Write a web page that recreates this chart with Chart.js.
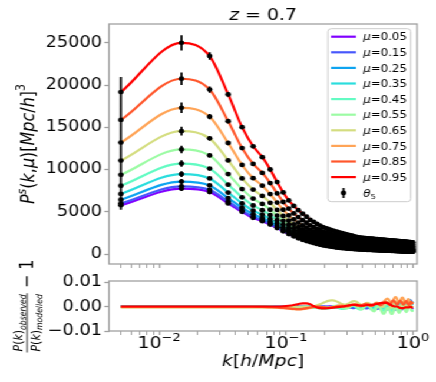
<!DOCTYPE html>
<html>
<head>
<meta charset="utf-8">
<script src="https://cdn.jsdelivr.net/npm/chart.js@4.4.1/dist/chart.umd.min.js"></script>
<style>
  html, body { margin: 0; padding: 0; background: #fff; overflow: hidden; }
  /* the reference figure is stretched sideways, so the whole drawing is too */
  #wrap { position: relative; width: 370px; height: 382px; transform: scaleX(1.1784); transform-origin: 0 0; }
  #top, #bot { position: absolute; left: 0; }
  #top { top: 0; }
  #bot { top: 230px; }
</style>
</head>
<body>
<div id="wrap">
  <canvas id="top" width="370" height="275"></canvas>
  <canvas id="bot" width="370" height="152"></canvas>
</div>
<script>
// k bins [h/Mpc]
const kValues = [
  0.005,0.015,0.025,0.035,0.045,0.055,0.065,0.075,0.085,0.095,
  0.105,0.115,0.125,0.135,0.145,0.155,0.165,0.175,0.185,0.195,
  0.205,0.215,0.225,0.235,0.245,0.255,0.265,0.275,0.285,0.295,
  0.305,0.315,0.325,0.335,0.345,0.355,0.365,0.375,0.385,0.395,
  0.405,0.415,0.425,0.435,0.445,0.455,0.465,0.475,0.485,0.495,
  0.505,0.515,0.525,0.535,0.545,0.555,0.565,0.575,0.585,0.595,
  0.605,0.615,0.625,0.635,0.645,0.655,0.665,0.675,0.685,0.695,
  0.705,0.715,0.725,0.735,0.745,0.755,0.765,0.775,0.785,0.795,
  0.805,0.815,0.825,0.835,0.845,0.855,0.865,0.875,0.885,0.895,
  0.905,0.915,0.925,0.935,0.945,0.955,0.965,0.975,0.985,0.995
];

const muLabels = ['0.05','0.15','0.25','0.35','0.45','0.55','0.65','0.75','0.85','0.95'];

// P^s(k, mu)
const pkMu005 = [5790,7750,7350,6000,5000,4300,3900,3500,3080,2700,
  2380,2110,1880,1700,1550,1420,1310,1210,1120,1050,990,940,890,850,810,780,750,720,700,680,
  660,645,630,615,600,590,580,570,560,550,540,532,525,518,512,506,500,494,488,482,
  477,471,466,461,456,451,446,441,436,432,427,422,418,414,409,405,401,397,393,389,
  385,381,377,373,370,366,362,359,355,352,348,345,341,338,335,332,328,325,322,319,
  316,313,310,307,304,301,298,295,293,290];
const pkMu015 = [6003,8024,7606,6205,5159,4435,4020,3604,3167,2773,
  2443,2167,1933,1749,1596,1462,1350,1248,1156,1084,1023,972,921,881,840,809,779,748,727,707,
  686,671,655,639,624,613,603,592,582,572,562,554,547,539,533,527,521,515,509,503,
  498,492,487,481,476,471,466,461,456,452,447,442,438,434,429,424,420,416,412,408,
  404,400,396,392,389,385,381,378,374,370,366,363,359,356,353,350,346,343,340,337,
  334,331,328,325,322,319,315,312,310,307];
const pkMu025 = [6440,8588,8132,6627,5487,4711,4268,3816,3345,2924,
  2573,2284,2041,1850,1689,1548,1432,1325,1230,1154,1092,1039,986,944,902,869,837,806,784,762,
  740,723,706,690,673,661,649,639,628,617,607,598,591,584,577,571,565,558,552,546,
  540,534,529,523,518,513,508,502,497,493,488,482,478,474,469,464,460,456,452,447,
  443,439,435,431,427,423,419,416,412,408,404,401,397,394,391,387,383,380,377,374,
  370,367,364,361,358,355,351,348,346,343];
const pkMu035 = [7124,9470,8954,7286,5999,5143,4655,4149,3623,3159,
  2776,2468,2211,2007,1836,1682,1560,1446,1345,1264,1198,1142,1087,1042,998,963,929,895,871,847,
  824,805,787,768,750,736,723,711,699,688,677,668,660,653,646,639,633,626,619,613,
  607,600,595,589,584,578,572,567,561,557,551,546,541,537,531,527,522,518,513,509,
  504,500,496,491,488,483,479,476,471,468,463,460,456,452,449,445,441,438,434,431,
  428,424,421,418,414,411,408,404,402,399];
const pkMu045 = [8091,10717,10117,8219,6723,5755,5202,4620,4017,3491,
  3063,2727,2451,2230,2044,1872,1742,1618,1509,1420,1349,1289,1231,1182,1135,1096,1060,1023,996,969,
  942,921,900,879,858,841,826,813,799,787,776,767,758,750,743,736,729,721,714,707,
  701,694,688,682,676,670,664,658,652,647,641,636,631,626,620,615,610,605,601,596,
  591,586,582,577,573,568,564,560,555,552,547,543,539,535,531,528,523,520,516,512,
  509,505,501,498,494,491,487,484,481,477];
const pkMu055 = [9387,12387,11675,9468,7693,6574,5935,5250,4545,3936,
  3447,3075,2772,2528,2321,2127,1985,1847,1727,1628,1552,1486,1422,1369,1318,1275,1234,1193,1162,1132,
  1101,1076,1052,1028,1003,982,964,949,934,921,908,899,890,881,873,865,857,849,842,834,
  827,820,813,806,800,793,787,780,774,768,762,756,750,745,739,733,728,723,717,712,
  707,702,697,692,687,682,677,673,668,664,659,655,650,646,642,638,633,629,625,621,
  617,613,609,605,602,598,594,590,587,583];
const pkMu065 = [11067,14553,13696,11088,8952,7637,6886,6068,5229,4514,
  3946,3526,3189,2915,2682,2457,2300,2145,2011,1898,1814,1741,1671,1611,1555,1506,1460,1414,1378,1343,
  1307,1278,1249,1220,1192,1166,1144,1126,1108,1094,1080,1070,1060,1050,1041,1033,1024,1015,1007,999,
  991,983,975,968,960,953,946,939,932,925,918,912,905,900,893,887,881,875,869,863,
  857,852,846,841,836,830,825,820,814,810,804,800,795,790,785,781,776,771,766,762,
  758,754,749,745,741,736,732,728,724,720];
const pkMu075 = [13203,17307,16264,13147,10551,8987,8094,7107,6099,5248,
  4579,4099,3719,3406,3140,2877,2701,2523,2372,2241,2148,2065,1987,1919,1857,1799,1747,1695,1653,1611,
  1569,1534,1500,1465,1431,1399,1372,1351,1330,1315,1299,1288,1277,1266,1255,1246,1236,1226,1217,1208,
  1199,1190,1181,1173,1165,1156,1148,1140,1132,1125,1117,1110,1103,1096,1089,1082,1075,1068,1062,1055,
  1049,1042,1036,1030,1024,1018,1012,1007,1000,995,989,984,978,973,968,962,957,952,946,942,
  936,932,927,922,917,913,907,903,899,894];
const pkMu085 = [15873,20750,19475,15721,12551,10675,9605,8406,7187,6167,
  5372,4815,4382,4021,3713,3402,3202,2996,2823,2670,2565,2470,2382,2304,2234,2167,2106,2046,1996,1946,
  1896,1855,1813,1772,1730,1690,1658,1633,1608,1590,1572,1560,1548,1535,1523,1512,1502,1490,1480,1469,
  1459,1448,1439,1429,1420,1410,1402,1392,1383,1375,1366,1358,1349,1342,1334,1326,1318,1310,1303,1296,
  1288,1281,1274,1267,1260,1253,1246,1240,1233,1227,1220,1214,1208,1202,1196,1190,1183,1177,1171,1166,
  1160,1155,1149,1143,1138,1133,1127,1122,1117,1111];
const pkMu095 = [19170,25000,23440,18900,15020,12760,11470,10010,8530,7300,
  6350,5700,5200,4780,4420,4050,3820,3580,3380,3200,3080,2970,2870,2780,2700,2620,2550,2480,2420,2360,
  2300,2250,2200,2150,2100,2050,2010,1980,1950,1930,1910,1896,1882,1868,1854,1841,1829,1816,1804,1792,
  1780,1768,1757,1746,1735,1724,1714,1703,1693,1683,1673,1664,1654,1645,1636,1627,1618,1609,1600,1592,
  1583,1575,1567,1559,1551,1543,1535,1528,1520,1513,1505,1498,1491,1484,1477,1470,1463,1456,1449,1443,
  1436,1430,1423,1417,1411,1405,1398,1392,1386,1380];

// fractional error bars (theta_5), per k bin
const relErr = [0.094,0.036,0.019,0.013,0.010,0.008,0.007,0.006,0.0055,0.005,
  0.0045,0.0041,0.0038,0.0035,0.0033,0.0031,0.0029,0.0027,0.0026,0.0024,
  0.0023,0.0022,0.0021,0.002,0.0019,0.0019,0.0018,0.0017,0.0017,0.0016,
  0.0016,0.0015,0.0015,0.0014,0.0014,0.0013,0.0013,0.0013,0.0012,0.0012,
  0.0012,0.0011,0.0011,0.0011,0.0011,0.001,0.001,0.001,0.001,0.001,
  0.0009,0.0009,0.0009,0.0009,0.0009,0.0009,0.0009,0.0009,0.0009,0.0009,
  0.0008,0.0008,0.0008,0.0008,0.0008,0.0008,0.0008,0.0008,0.0008,0.0008,
  0.0008,0.0008,0.0008,0.0008,0.0008,0.0008,0.0008,0.0008,0.0008,0.0008,
  0.0007,0.0007,0.0007,0.0007,0.0007,0.0007,0.0007,0.0007,0.0007,0.0007,
  0.0007,0.0007,0.0007,0.0007,0.0007,0.0007,0.0007,0.0007,0.0007,0.0007];

// observed/modelled - 1, in units of 1e-3
const residMu005 = [0.1,0.1,0.1,0.1,0.1,0,0,0,0,0, 0,0.1,0.2,0.2,0.1,0,-0.1,-0.2,-0.2,-0.1,
  0,0.1,0.2,0.2,0.1,0,-0.1,-0.3,-0.4,-0.3, -0.1,0.2,0.4,0.5,0.3,0,-0.3,-0.5,-0.4,-0.1,
  0.3,0.6,0.7,0.5,0.1,-0.4,-0.8,-0.9,-0.6,-0.1, 0.4,0.8,0.9,0.6,0.1,-0.4,-0.8,-1.0,-0.8,-0.3,
  0.3,0.9,1.2,1.1,0.6,0,-0.5,-0.8,-0.7,-0.3, 0.3,0.9,1.3,1.2,0.7,0,-0.7,-1.1,-1.1,-0.6,
  0.1,0.8,1.3,1.4,1.0,0.3,-0.5,-1.0,-1.1,-0.6, 0.2,1.0,1.6,1.8,1.4,0.7,-0.1,-0.6,-0.7,-0.3];
const residMu015 = [0.2,0.2,0.2,0.1,0.1,0.1,0.1,0,0,0, 0,0,-0.1,-0.2,-0.2,-0.1,0,0.1,0.2,0.2,
  0.1,0,-0.2,-0.3,-0.3,-0.2,0,0.2,0.4,0.4, 0.2,-0.1,-0.4,-0.6,-0.5,-0.2,0.2,0.5,0.6,0.4,
  0,-0.4,-0.7,-0.7,-0.4,0,0.5,0.8,0.8,0.4, -0.1,-0.6,-0.9,-0.8,-0.4,0.2,0.8,1.1,0.9,0.4,
  -0.2,-0.8,-1.1,-1.0,-0.4,0.3,1.0,1.3,1.1,0.5, -0.2,-0.9,-1.2,-1.0,-0.3,0.5,1.2,1.5,1.2,0.5,
  -0.3,-0.9,-1.1,-0.7,0,0.9,1.6,1.9,1.7,1.1, 0.4,0.3,0.8,1.5,2.2,2.6,2.4,1.8,1.2,1.0];
const residMu025 = [0.1,0.1,0.1,0.1,0,0,0,0,0,0, 0,-0.1,-0.1,0,0.1,0.2,0.2,0.1,0,-0.1,
  -0.2,-0.2,-0.1,0.1,0.3,0.4,0.3,0.1,-0.2,-0.4, -0.5,-0.4,-0.1,0.3,0.6,0.6,0.3,-0.1,-0.5,-0.7,
  -0.6,-0.2,0.3,0.7,0.9,0.7,0.2,-0.4,-0.8,-0.9, -0.6,0,0.6,1.0,1.0,0.6,0,-0.6,-0.9,-0.8,
  -0.3,0.4,1.0,1.3,1.1,0.5,-0.2,-0.8,-1.0,-0.7, -0.1,0.6,1.2,1.4,1.1,0.4,-0.4,-0.9,-1.0,-0.5,
  0.2,1.0,1.5,1.6,1.2,0.5,-0.2,-0.5,-0.3,0.3, 1.1,1.9,2.5,2.8,2.6,2.0,1.3,0.9,1.2,2.0];
const residMu035 = [0,0,0,0,0,-0.1,-0.1,-0.1,-0.1,-0.1, -0.1,-0.2,-0.2,-0.3,-0.3,-0.2,-0.2,-0.2,-0.3,-0.4,
  -0.5,-0.5,-0.4,-0.3,-0.2,-0.2,-0.3,-0.5,-0.6,-0.6, -0.4,-0.1,0.2,0.3,0.2,-0.1,-0.5,-0.8,-0.8,-0.5,
  0,0.5,0.8,0.7,0.3,-0.3,-0.8,-1.0,-0.8,-0.3, 0.3,0.8,1.0,0.8,0.2,-0.4,-0.9,-1.1,-0.8,-0.2,
  0.5,1.0,1.2,0.9,0.3,-0.5,-1.0,-1.2,-0.8,-0.1, 0.6,1.2,1.4,1.1,0.4,-0.4,-1.0,-1.2,-0.8,0,
  0.8,1.4,1.6,1.3,0.6,-0.2,-0.7,-0.8,-0.4,0.4, 1.2,1.9,2.4,2.6,2.3,1.7,1.1,0.9,1.4,2.2];
const residMu045 = [0,0,0,0,0,0,0,-0.1,-0.2,-0.3, -0.3,-0.4,-0.4,-0.4,-0.3,-0.3,-0.4,-0.5,-0.7,-0.8,
  -0.8,-0.7,-0.5,-0.4,-0.4,-0.5,-0.7,-0.9,-0.9,-0.7, -0.4,0,0.3,0.4,0.2,-0.2,-0.7,-1.0,-1.1,-0.8,
  -0.3,0.3,0.7,0.8,0.5,-0.1,-0.8,-1.3,-1.4,-1.0, -0.3,0.4,0.9,1.0,0.6,-0.1,-0.9,-1.5,-1.6,-1.2,
  -0.4,0.5,1.1,1.2,0.7,-0.1,-1.0,-1.6,-1.7,-1.2, -0.4,0.6,1.3,1.4,0.9,0,-1.0,-1.7,-1.9,-1.4,
  -0.5,0.5,1.3,1.6,1.2,0.3,-0.8,-1.6,-1.8,-1.3, -0.4,0.6,1.3,1.5,1.0,0.1,-0.8,-1.4,-1.5,-1.1];
const residMu055 = [-0.1,-0.1,-0.1,-0.1,-0.1,-0.1,-0.1,-0.1,-0.2,-0.2, -0.2,-0.1,0,0.1,0.2,0.1,-0.1,-0.3,-0.5,-0.6,
  -0.6,-0.4,-0.1,0.2,0.4,0.4,0.2,-0.2,-0.5,-0.7, -0.6,-0.3,0.2,0.6,0.7,0.5,0,-0.6,-1.0,-1.1,
  -0.8,-0.2,0.4,0.8,0.8,0.3,-0.5,-1.3,-1.8,-1.9, -1.4,-0.6,0,0.2,-0.2,-1.0,-1.9,-2.6,-2.9,-2.7,
  -2.0,-1.2,-0.6,-0.5,-0.9,-1.7,-2.5,-3.0,-3.0,-2.5, -1.7,-0.9,-0.4,-0.4,-0.9,-1.6,-2.2,-2.5,-2.3,-1.7,
  -0.9,-0.1,0.4,0.5,0.1,-0.6,-1.4,-2.0,-2.2,-1.9, -1.2,-0.4,0.3,0.6,0.4,-0.2,-1.0,-1.6,-1.8,-1.5];
const residMu065 = [-0.3,-0.3,-0.3,-0.3,-0.3,-0.3,-0.3,-0.3,-0.2,-0.2, -0.1,0,0,-0.1,-0.2,-0.1,0.2,0.6,1.0,1.5,
  2.0,2.4,2.6,2.6,2.4,2.0,1.5,1.1,0.9,0.9, 1.1,1.5,1.9,2.2,2.3,2.2,1.8,1.3,0.9,0.7,
  0.8,1.1,1.4,1.6,1.5,1.2,0.8,0.5,0.5,0.8, 1.2,1.5,1.6,1.4,0.9,0.4,0,-0.1,0.1,0.6,
  1.2,1.7,1.9,1.7,1.1,0.4,-0.2,-0.5,-0.3,0.3, 1.0,1.7,2.1,2.0,1.5,0.7,-0.1,-0.6,-0.6,-0.1,
  0.7,1.5,2.0,2.1,1.7,0.9,0.1,-0.4,-0.4,0.1, 0.9,1.6,2.0,1.9,1.4,0.6,-0.1,-0.4,-0.2,0.3];
const residMu075 = [-0.2,-0.2,-0.2,-0.2,-0.2,-0.2,-0.2,-0.3,-0.4,-0.6, -0.8,-1.0,-1.1,-1.0,-0.8,-0.5,-0.2,0,0,-0.1,
  -0.3,-0.4,-0.4,-0.2,0.1,0.4,0.6,0.6,0.4,0.2, 0.1,0.2,0.5,0.9,1.1,1.1,0.8,0.4,0.2,0.3,
  0.6,1.0,1.3,1.3,1.0,0.6,0.3,0.3,0.6,1.1, 1.5,1.7,1.6,1.2,0.8,0.6,0.8,1.3,1.9,2.4,
  2.8,3.1,3.3,3.2,2.8,2.2,1.7,1.5,1.8,2.4, 3.1,3.7,4.0,3.9,3.4,2.7,2.1,1.8,2.0,2.5,
  3.1,3.6,3.8,3.6,3.0,2.3,1.7,1.5,1.8,2.3, 2.8,3.1,3.0,2.6,2.0,1.4,1.1,1.2,1.6,2.0];
const residMu085 = [0,0,0,0,0,0,-0.1,-0.2,-0.3,-0.5, -0.7,-0.9,-1.0,-0.9,-0.6,-0.3,0,0.1,0,-0.2,
  -0.4,-0.5,-0.4,-0.2,0,0.2,0.3,0.3,0.2,0.2, 0.3,0.5,0.7,0.8,0.8,0.6,0.4,0.3,0.4,0.6,
  0.9,1.1,1.2,1.0,0.7,0.4,0.3,0.4,0.7,1.0, 1.3,1.4,1.3,1.0,0.7,0.6,0.8,1.2,1.6,1.9,
  2.0,1.9,1.6,1.2,0.9,0.9,1.2,1.7,2.2,2.5, 2.5,2.2,1.7,1.2,0.9,1.0,1.4,1.9,2.3,2.4,
  2.2,1.7,1.2,0.9,0.9,1.3,1.8,2.2,2.3,2.0, 1.5,1.0,0.7,0.8,1.2,1.7,2.0,1.9,1.5,1.1];
const residMu095 = [0.1,0.1,0.1,0.1,0.1,0.1,0.1,0.1,0.1,0.2, 0.4,0.7,1.1,1.4,1.4,1.0,0.3,-0.3,-0.6,-0.7,
  -0.7,-0.6,-0.5,-0.4,-0.3,-0.2,-0.1,0,0.1,0.3, 0.5,0.6,0.7,0.8,0.8,0.8,0.7,0.6,0.5,0.4,
  0.4,0.5,0.6,0.7,0.8,0.8,0.8,0.8,0.8,0.9, 1.0,1.1,1.2,1.3,1.4,1.5,1.6,1.6,1.6,1.6,
  1.6,1.6,1.5,1.4,1.2,1.0,0.8,0.6,0.4,0.3, 0.2,0.1,0.1,0.1,0.1,0,-0.1,-0.3,-0.4,-0.5,
  -0.6,-0.6,-0.6,-0.6,-0.5,-0.4,-0.3,-0.3,-0.3,-0.3, -0.3,-0.3,-0.3,-0.2,-0.1,0,-0.1,-0.2,-0.4,-0.5];

const pkSeries = [pkMu005, pkMu015, pkMu025, pkMu035, pkMu045, pkMu055, pkMu065, pkMu075, pkMu085, pkMu095];
const residSeries = [residMu005, residMu015, residMu025, residMu035, residMu045, residMu055, residMu065, residMu075, residMu085, residMu095];

// matplotlib "rainbow" colormap sampled at 10 points
const muColors = ['rgb(128,0,255)','rgb(71,87,251)','rgb(14,164,240)','rgb(43,221,221)','rgb(99,251,195)',
  'rgb(156,251,164)','rgb(212,221,128)','rgb(255,164,87)','rgb(255,87,44)','rgb(255,0,0)'];

const FONT = '"DejaVu Sans"';
const SPINE = '#a0a0a0';
const xMin = 0.00403, xMax = 1.075;

// --- small mathtext-like helpers ---
const part = (t, o = {}) => Object.assign({ t, s: 16, i: false, dy: 0 }, o);
const fontOf = p => (p.i ? 'italic ' : '') + p.s + 'px ' + FONT;
function richWidth(ctx, parts) {
  let w = 0;
  parts.forEach(p => { ctx.font = fontOf(p); w += ctx.measureText(p.t).width; });
  return w;
}
function drawRich(ctx, parts, x, y) {
  parts.forEach(p => {
    ctx.font = fontOf(p);
    ctx.fillText(p.t, x, y + p.dy);
    x += ctx.measureText(p.t).width;
  });
  return x;
}

function logTicks(scale) {
  const vals = [];
  [0.001, 0.01, 0.1, 1].forEach(d => {
    for (let m = 1; m <= 9; m++) {
      const v = +(m * d).toPrecision(3);
      if (v >= xMin && v <= xMax) vals.push({ value: v, major: m === 1 });
    }
  });
  scale.ticks = vals;
}

const frame = {
  id: 'frame',
  afterDraw(chart) {
    const { ctx, chartArea: a } = chart;
    ctx.save();
    ctx.strokeStyle = SPINE;
    ctx.lineWidth = 1.3;
    ctx.strokeRect(a.left, a.top, a.right - a.left, a.bottom - a.top);
    ctx.restore();
  }
};

const errorBars = {
  id: 'errorBars',
  afterDatasetsDraw(chart) {
    const { ctx, scales: { x, y } } = chart;
    ctx.save();
    ctx.strokeStyle = '#000';
    ctx.lineWidth = 1.8;
    ctx.beginPath();
    pkSeries.forEach(arr => arr.forEach((v, i) => {
      const px = x.getPixelForValue(kValues[i]);
      ctx.moveTo(px, y.getPixelForValue(v * (1 + relErr[i])));
      ctx.lineTo(px, y.getPixelForValue(v * (1 - relErr[i])));
    }));
    ctx.stroke();
    ctx.restore();
  }
};

const topDecor = {
  id: 'topDecor',
  afterDraw(chart) {
    const { ctx, chartArea: a } = chart;
    ctx.save();
    ctx.fillStyle = '#000';
    ctx.textAlign = 'left';
    ctx.textBaseline = 'alphabetic';

    // title
    const title = [part('z', { i: true }), part(' = '), part('0.7')];
    drawRich(ctx, title, (a.left + a.right) / 2 - richWidth(ctx, title) / 2, 20);

    // y label
    const ylab = [part('P', { i: true }), part('s', { i: true, s: 11, dy: -7 }), part('('), part('k', { i: true }),
      part(','), part('\u03bc', { i: true }), part(')'), part('['), part('Mpc', { i: true }), part('/'),
      part('h', { i: true }), part(']'), part('3', { s: 11, dy: -8 })];
    ctx.save();
    ctx.translate(29, (a.top + a.bottom) / 2);
    ctx.rotate(-Math.PI / 2);
    drawRich(ctx, ylab, -richWidth(ctx, ylab) / 2, 0);
    ctx.restore();

    // legend
    const bx = 278.2, by = 28.7, bw = 70.4, bh = 173;
    ctx.beginPath();
    ctx.roundRect(bx, by, bw, bh, 3);
    ctx.fillStyle = 'rgba(255,255,255,0.8)';
    ctx.fill();
    ctx.strokeStyle = '#cccccc';
    ctx.lineWidth = 1;
    ctx.stroke();
    muLabels.forEach((m, j) => {
      const yy = 36.7 + 15.6 * j;
      ctx.strokeStyle = muColors[j];
      ctx.lineWidth = 2.2;
      ctx.beginPath();
      ctx.moveTo(280.9, yy);
      ctx.lineTo(302.1, yy);
      ctx.stroke();
      ctx.fillStyle = '#000';
      drawRich(ctx, [part('\u03bc', { i: true, s: 10 }), part('=' + m, { s: 10 })], 308.3, yy + 3.7);
    });
    const ty = 193;
    ctx.strokeStyle = '#000';
    ctx.lineWidth = 1.8;
    ctx.beginPath();
    ctx.moveTo(291.5, ty - 5);
    ctx.lineTo(291.5, ty + 5);
    ctx.stroke();
    ctx.beginPath();
    ctx.arc(291.5, ty, 2.4, 0, Math.PI * 2);
    ctx.fill();
    drawRich(ctx, [part('\u03b8', { i: true, s: 10 }), part('5', { s: 7, dy: 2.5 })], 308.3, ty + 3.7);
    ctx.restore();
  }
};

const botDecor = {
  id: 'botDecor',
  afterDraw(chart) {
    const { ctx, chartArea: a, scales: { x } } = chart;
    ctx.save();
    ctx.fillStyle = '#000';
    ctx.textAlign = 'left';
    ctx.textBaseline = 'alphabetic';

    // x tick labels 10^n
    [[0.01, '\u22122'], [0.1, '\u22121'], [1, '0']].forEach(([v, e]) => {
      const lab = [part('10'), part(e, { s: 11, dy: -7 })];
      drawRich(ctx, lab, x.getPixelForValue(v) - richWidth(ctx, lab) / 2, 117.5);
    });

    // x label
    const xlab = [part('k', { i: true }), part('['), part('h', { i: true }), part('/'), part('Mpc', { i: true }), part(']')];
    drawRich(ctx, xlab, (a.left + a.right) / 2 - richWidth(ctx, xlab) / 2, 136);

    // y label: fraction minus one
    const num = [part('P', { i: true, s: 11 }), part('(', { s: 11 }), part('k', { i: true, s: 11 }), part(')', { s: 11 }),
      part('observed', { i: true, s: 7.7, dy: 2.5 })];
    const den = [part('P', { i: true, s: 11 }), part('(', { s: 11 }), part('k', { i: true, s: 11 }), part(')', { s: 11 }),
      part('modelled', { i: true, s: 7.7, dy: 2.5 })];
    const tail = [part(' \u2212 '), part('1')];
    const wn = richWidth(ctx, num), wd = richWidth(ctx, den), wt = richWidth(ctx, tail);
    const fw = Math.max(wn, wd) + 2;
    const L = fw + wt;
    ctx.save();
    ctx.translate(28, (a.top + a.bottom) / 2);
    ctx.rotate(-Math.PI / 2);
    const x0 = -L / 2;
    drawRich(ctx, num, x0 + (fw - wn) / 2, -9);
    drawRich(ctx, den, x0 + (fw - wd) / 2, 5.5);
    ctx.fillRect(x0, -5.4, fw, 0.8);
    drawRich(ctx, tail, x0 + fw, 0);
    ctx.restore();
    ctx.restore();
  }
};

const tickFont = { family: 'DejaVu Sans', size: 15 };

const lineSets = pkSeries.map((arr, j) => ({
  type: 'line',
  data: arr.map((v, i) => ({ x: kValues[i], y: v })),
  borderColor: muColors[j],
  borderWidth: 2.2,
  pointRadius: 0,
  fill: false,
  cubicInterpolationMode: 'monotone',
  order: 30 - j
}));
const dotSets = pkSeries.map((arr, j) => ({
  type: 'scatter',
  data: arr.map((v, i) => ({ x: kValues[i], y: v })),
  pointRadius: 2.4,
  pointBackgroundColor: '#000',
  pointBorderWidth: 0,
  showLine: false,
  order: 10 - j
}));

new Chart(document.getElementById('top'), {
  type: 'scatter',
  data: { datasets: [...lineSets, ...dotSets] },
  options: {
    responsive: false,
    animation: false,
    devicePixelRatio: 1,
    events: [],
    layout: { padding: { left: 0, right: 16.1, top: 24, bottom: 0 } },
    plugins: { legend: { display: false }, tooltip: { enabled: false } },
    scales: {
      x: {
        type: 'logarithmic', min: xMin, max: xMax,
        afterBuildTicks: logTicks,
        afterFit: s => { s.height = 9; },
        ticks: { display: false, autoSkip: false },
        border: { display: false },
        grid: { drawOnChartArea: false, tickLength: 4, color: SPINE, tickWidth: c => (c.tick && c.tick.major ? 1.3 : 1) }
      },
      y: {
        min: -1170, max: 27230,
        afterBuildTicks: s => { s.ticks = [0, 5000, 10000, 15000, 20000, 25000].map(v => ({ value: v })); },
        afterFit: s => { s.width = 92.5; },
        ticks: { font: tickFont, color: '#000', padding: 2, callback: v => String(v) },
        border: { display: false },
        grid: { drawOnChartArea: false, tickLength: 4, color: SPINE, tickWidth: 1.3 }
      }
    }
  },
  plugins: [errorBars, frame, topDecor]
});

new Chart(document.getElementById('bot'), {
  type: 'line',
  data: {
    datasets: residSeries.map((arr, j) => ({
      data: arr.map((v, i) => ({ x: kValues[i], y: v / 1000 })),
      borderColor: muColors[j],
      borderWidth: 2.2,
      pointRadius: 0,
      fill: false,
      cubicInterpolationMode: 'monotone',
      order: 30 - j
    }))
  },
  options: {
    responsive: false,
    animation: false,
    devicePixelRatio: 1,
    events: [],
    layout: { padding: { left: 0, right: 16.1, top: 51, bottom: 0 } },
    plugins: { legend: { display: false }, tooltip: { enabled: false } },
    scales: {
      x: {
        type: 'logarithmic', min: xMin, max: xMax,
        afterBuildTicks: logTicks,
        afterFit: s => { s.height = 51; },
        ticks: { display: false, autoSkip: false },
        border: { display: false },
        grid: { drawOnChartArea: false, tickLength: 4, color: SPINE, tickWidth: c => (c.tick && c.tick.major ? 1.3 : 1) }
      },
      y: {
        min: -0.01, max: 0.0106,
        afterBuildTicks: s => { s.ticks = [-0.01, 0, 0.01].map(v => ({ value: v })); },
        afterFit: s => { s.width = 92.5; },
        ticks: {
          font: tickFont, color: '#000', padding: 2,
          callback: v => (v < 0 ? '\u2212' : '') + Math.abs(v).toFixed(2)
        },
        border: { display: false },
        grid: { drawOnChartArea: false, tickLength: 4, color: SPINE, tickWidth: 1.3 }
      }
    }
  },
  plugins: [frame, botDecor]
});
</script>
</body>
</html>
